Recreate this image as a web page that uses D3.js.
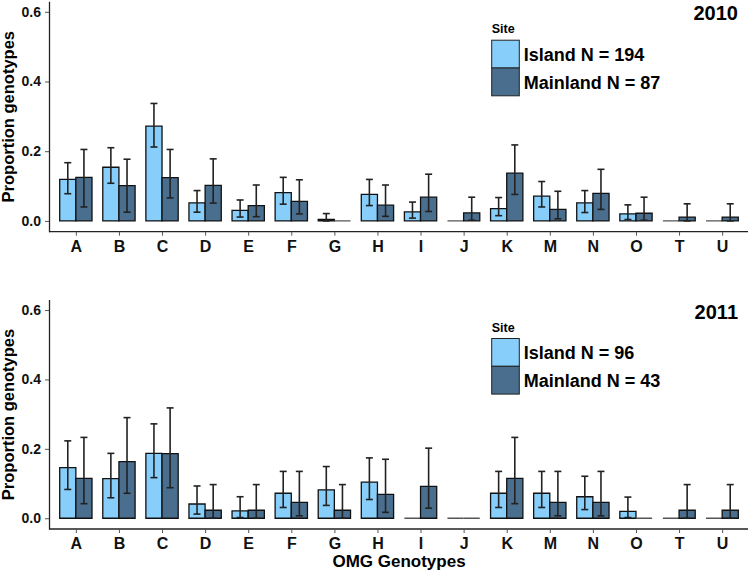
<!DOCTYPE html>
<html>
<head>
<meta charset="utf-8">
<script src="https://cdnjs.cloudflare.com/ajax/libs/d3/7.8.5/d3.min.js"></script>
<style>
  body { margin: 0; background: #fff; }
  svg text { font-family: "Liberation Sans", Arial, Helvetica, sans-serif; font-weight: bold; }
</style>
</head>
<body>
<svg id="chart" width="750" height="572"></svg>
<script>
// genotype categories on the x axis
const genotypes = ["A","B","C","D","E","F","G","H","I","J","K","M","N","O","T","U"];
const yTicks = [0, 0.2, 0.4, 0.6];

// 2010 proportions and error bar limits (null = no error bar)
const island2010   = [0.119,0.154,0.272,0.052,0.030,0.081,0.004,0.076,0.026,0,0.035,0.071,0.052,0.020,0,0];
const island2010Lo = [0.078,0.108,0.212,0.025,0.011,0.048,0,0.044,0.008,null,0.015,0.040,0.024,0.004,null,null];
const island2010Hi = [0.167,0.210,0.337,0.087,0.060,0.125,0.021,0.119,0.054,null,0.067,0.113,0.087,0.046,null,null];
const main2010     = [0.125,0.101,0.124,0.102,0.044,0.056,0,0.045,0.068,0.023,0.137,0.033,0.079,0.022,0.011,0.011];
const main2010Lo   = [0.040,0.025,0.066,0.051,0.012,0.020,null,0.013,0.027,0.002,0.076,0.006,0.033,0.002,0,0];
const main2010Hi   = [0.205,0.177,0.205,0.178,0.103,0.118,null,0.103,0.134,0.068,0.218,0.085,0.148,0.068,0.049,0.049];

// 2011
const island2011   = [0.146,0.114,0.187,0.041,0.021,0.072,0.082,0.104,0,0,0.072,0.072,0.062,0.020,0,0];
const island2011Lo = [0.083,0.059,0.117,0.012,0.002,0.031,0.037,0.054,null,null,0.031,0.031,0.025,0.002,null,null];
const island2011Hi = [0.223,0.187,0.272,0.093,0.062,0.135,0.149,0.174,null,null,0.135,0.135,0.121,0.061,null,null];
const main2011     = [0.115,0.163,0.186,0.023,0.023,0.046,0.023,0.069,0.092,0,0.115,0.046,0.046,0,0.023,0.023];
const main2011Lo   = [0.042,0.072,0.088,0,0,0.007,0,0.017,0.029,null,0.042,0.007,0.007,null,0,0];
const main2011Hi   = [0.233,0.290,0.318,0.097,0.097,0.135,0.097,0.170,0.202,null,0.233,0.135,0.135,null,0.097,0.097];

const sites = ["Island", "Mainland"];
const colors = { Island: "#87CEFA", Mainland: "#4A6E8E" };

const panels = [
  { year: "2010", top: 1.7, bottom: 231.7, n: ["Island N = 194", "Mainland N = 87"],
    series: [[island2010, island2010Lo, island2010Hi], [main2010, main2010Lo, main2010Hi]] },
  { year: "2011", top: 300, bottom: 529, n: ["Island N = 96", "Mainland N = 43"],
    series: [[island2011, island2011Lo, island2011Hi], [main2011, main2011Lo, main2011Hi]] }
];

const svg = d3.select("#chart");
const left = 50, right = 748;

// ggplot-like discrete axis: 0.6 band of expansion each side
const x = d3.scalePoint().domain(genotypes).range([left, right]).padding(0.6);
const bandW = x.step();
const dodge = d3.scaleBand().domain(sites).range([-bandW * 0.375, bandW * 0.375]);

panels.forEach(p => {
  const y = d3.scaleLinear().domain([-0.031, 0.629]).range([p.bottom, p.top]);
  const g = svg.append("g");

  const bars = [];
  p.series.forEach((s, si) => {
    genotypes.forEach((gt, i) => {
      bars.push({ g: gt, site: sites[si], v: s[0][i], lo: s[1][i], hi: s[2][i] });
    });
  });

  // bars (paths so zero-height bars still show as a line)
  g.selectAll(".bar").data(bars).join("path")
    .attr("class", "bar")
    .attr("d", d => {
      const x0 = x(d.g) + dodge(d.site), x1 = x0 + dodge.bandwidth();
      return `M${x0},${y(0)}V${y(d.v)}H${x1}V${y(0)}Z`;
    })
    .attr("fill", d => colors[d.site])
    .attr("stroke", d => d.v === 0 ? "#555" : "#111")
    .attr("stroke-width", 1.3);

  // error bars
  const errs = bars.filter(d => d.lo !== null);
  const cx = d => x(d.g) + dodge(d.site) + dodge.bandwidth() / 2;
  const eb = g.selectAll(".err").data(errs).join("g").attr("class", "err")
    .attr("stroke", "#222").attr("stroke-width", 1.6);
  eb.append("line").attr("x1", cx).attr("x2", cx).attr("y1", d => y(d.lo)).attr("y2", d => y(d.hi));
  eb.append("line").attr("x1", d => cx(d) - 3.5).attr("x2", d => cx(d) + 3.5).attr("y1", d => y(d.hi)).attr("y2", d => y(d.hi));
  eb.append("line").attr("x1", d => cx(d) - 3.5).attr("x2", d => cx(d) + 3.5).attr("y1", d => y(d.lo)).attr("y2", d => y(d.lo));

  // y axis
  const ya = g.append("g").attr("transform", `translate(${left - 1},0)`)
    .call(d3.axisLeft(y).tickValues(yTicks).tickFormat(d3.format(".1f")).tickSize(4).tickPadding(4));
  ya.select(".domain").remove();
  ya.selectAll(".tick line").attr("stroke", "#555");
  ya.selectAll(".tick text").attr("fill", "#111").style("font-size", "14px");

  g.append("line").attr("x1", left - 0.5).attr("x2", left - 0.5).attr("y1", p.top).attr("y2", p.bottom + 0.5)
    .attr("stroke", "#222").attr("stroke-width", 1.3);

  // x axis
  const xa = g.append("g").attr("transform", `translate(0,${p.bottom})`)
    .call(d3.axisBottom(x).tickSize(4).tickPadding(4));
  xa.select(".domain").attr("d", `M${left - 1},0H${right}`).attr("stroke", "#222").attr("stroke-width", 1.3);
  xa.selectAll(".tick line").attr("stroke", "#555");
  xa.selectAll(".tick text").attr("fill", "#111").style("font-size", "16px").attr("dy", null).attr("y", 20);

  // y title
  g.append("text")
    .attr("transform", `translate(13.8,${(p.top + p.bottom) / 2}) rotate(-90)`)
    .attr("text-anchor", "middle").style("font-size", "16.5px").text("Proportion genotypes");

  // year
  g.append("text").attr("x", 738).attr("y", p.top + 18.5).attr("text-anchor", "end")
    .style("font-size", "20px").text(p.year);

  // legend
  const lx = 491.7, ly = p.top + 38.5;
  g.append("text").attr("x", lx).attr("y", ly - 7).style("font-size", "12.5px").text("Site");
  sites.forEach((s, si) => {
    g.append("rect").attr("x", lx).attr("y", ly + si * 27.8).attr("width", 27.6).attr("height", 27.8)
      .attr("fill", colors[s]).attr("stroke", "#222").attr("stroke-width", 1);
    g.append("text").attr("x", lx + 32).attr("y", ly + si * 27.8 + 20.5)
      .style("font-size", "18px").text(p.n[si]);
  });
});

svg.append("text").attr("x", (left + right) / 2).attr("y", 566.5).attr("text-anchor", "middle")
  .style("font-size", "17px").text("OMG Genotypes");
</script>
</body>
</html>
